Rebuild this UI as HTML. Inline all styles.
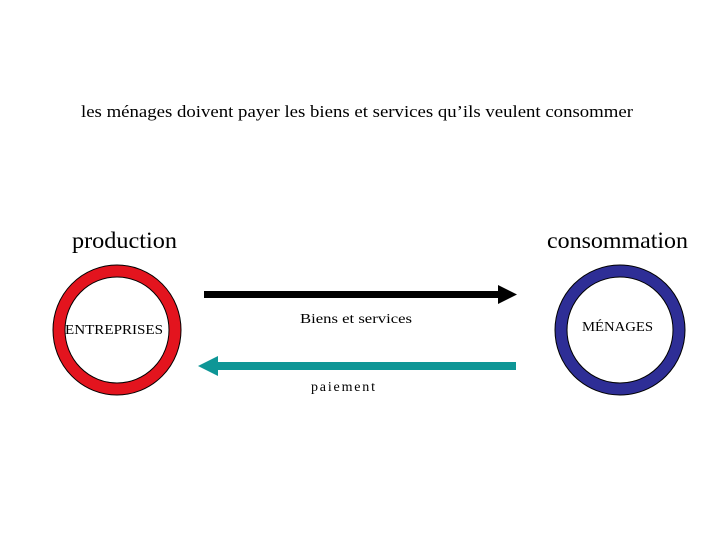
<!DOCTYPE html>
<html><head><meta charset="utf-8"><style>html,body{margin:0;padding:0;background:#fff;}</style></head>
<body>
<svg width="720" height="540" xmlns="http://www.w3.org/2000/svg" font-family="Liberation Serif, serif">
<rect width="720" height="540" fill="#fff"/>
<text x="81" y="117" font-size="17" textLength="552" lengthAdjust="spacingAndGlyphs" fill="#000">les ménages doivent payer les biens et services qu’ils veulent consommer</text>
<text x="72" y="248" font-size="23" textLength="105" lengthAdjust="spacingAndGlyphs" fill="#000">production</text>
<text x="547" y="248" font-size="23" textLength="141" lengthAdjust="spacingAndGlyphs" fill="#000">consommation</text>
<ellipse cx="117" cy="330" rx="58" ry="59" fill="none" stroke="#000" stroke-width="13"/>
<ellipse cx="117" cy="330" rx="58" ry="59" fill="none" stroke="#e3141e" stroke-width="11"/>
<ellipse cx="620" cy="330" rx="59" ry="59" fill="none" stroke="#000" stroke-width="13"/>
<ellipse cx="620" cy="330" rx="59" ry="59" fill="none" stroke="#2e2e96" stroke-width="11"/>
<text x="65" y="334" font-size="14" textLength="98" lengthAdjust="spacingAndGlyphs" fill="#000">ENTREPRISES</text>
<text x="582" y="331" font-size="14" textLength="71" lengthAdjust="spacingAndGlyphs" fill="#000">MÉNAGES</text>
<rect x="204" y="291" width="296" height="7" fill="#000"/>
<polygon points="498,285 517,294.5 498,304" fill="#000"/>
<rect x="216" y="362" width="300" height="8" fill="#0e9696"/>
<polygon points="218,356 198,366 218,376" fill="#0e9696"/>
<text x="300" y="323" font-size="14" textLength="112" lengthAdjust="spacingAndGlyphs" fill="#000">Biens et services</text>
<text x="311" y="391" font-size="14" textLength="64" lengthAdjust="spacing" fill="#000">paiement</text>
</svg>
</body></html>
